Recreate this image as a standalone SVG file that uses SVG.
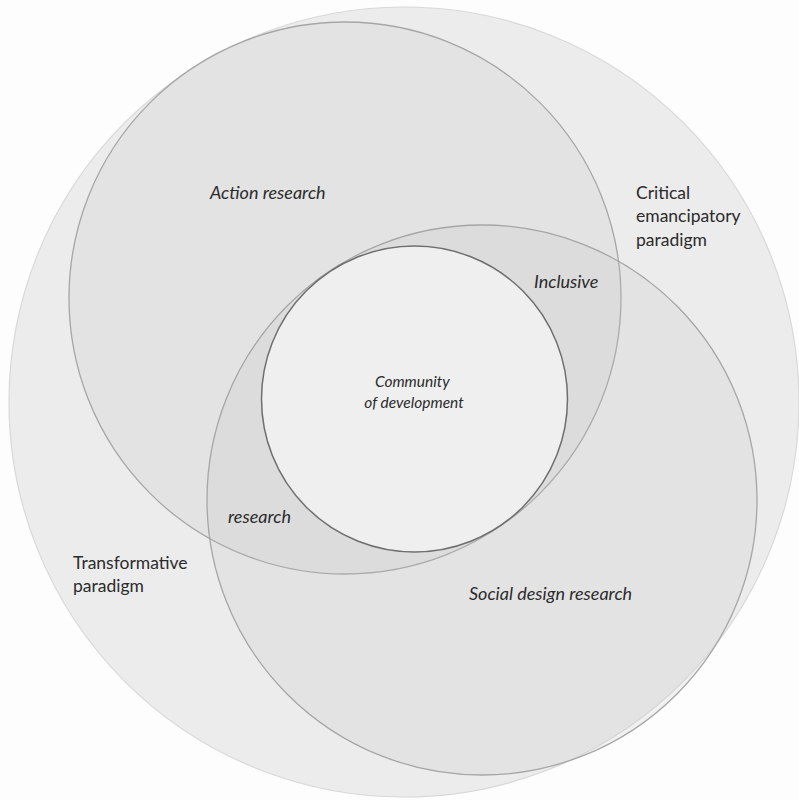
<svg xmlns="http://www.w3.org/2000/svg" width="799" height="800" viewBox="0 0 799 800">
  <style>
    .lbl { font-family: Lato, "Open Sans", "Liberation Sans", sans-serif; fill: #2b2b2b; }
    .it { font-style: italic; }
    .paradigm { fill: #ececec; stroke: #d8d8d8; stroke-width: 1.2; }
    .approach { fill: #c4c2c4; fill-opacity: 0.2; stroke: #a6a6a6; stroke-width: 1.3; }
    .core { fill: #f0eff0; stroke: #6e6e6e; stroke-width: 1.5; }
  </style>
  <rect width="799" height="800" fill="#fdfdfd"/>

  <g id="transformative-paradigm">
    <circle class="paradigm" cx="404" cy="402" r="395"/>
  </g>

  <g id="action-research">
    <circle class="approach" cx="345" cy="298" r="276"/>
  </g>

  <g id="social-design-research">
    <circle class="approach" cx="482" cy="500" r="275"/>
  </g>

  <g id="community-of-development">
    <circle class="core" cx="414.5" cy="399" r="153"/>
    <text class="lbl it" font-size="15.5" text-anchor="middle">
      <tspan x="414" y="387">Community</tspan>
      <tspan x="414" y="408">of development</tspan>
    </text>
  </g>

  <g id="labels">
    <text class="lbl it" font-size="18" x="210" y="199">Action research</text>
    <text class="lbl it" font-size="18" x="534" y="288">Inclusive</text>
    <text class="lbl it" font-size="18" x="228" y="523">research</text>
    <text class="lbl it" font-size="18" x="469" y="600">Social design research</text>
    <text class="lbl" font-size="17.5">
      <tspan x="636" y="199">Critical</tspan>
      <tspan x="636" y="222">emancipatory</tspan>
      <tspan x="636" y="246">paradigm</tspan>
    </text>
    <text class="lbl" font-size="17.5">
      <tspan x="73" y="569">Transformative</tspan>
      <tspan x="73" y="592">paradigm</tspan>
    </text>
  </g>
</svg>
